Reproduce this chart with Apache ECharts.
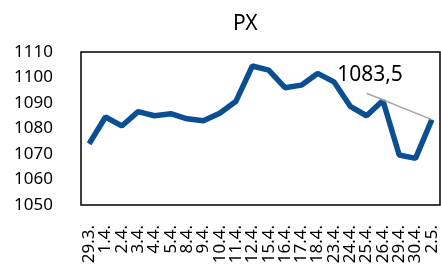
<!DOCTYPE html>
<html>
<head>
<meta charset="utf-8">
<script src="https://cdn.jsdelivr.net/npm/echarts@6/dist/echarts.min.js"></script>
<style>
  html, body { margin: 0; padding: 0; background: #fff; }
  #chart { width: 441px; height: 269px; }
</style>
</head>
<body>
<div id="chart"></div>
<script>
const dates = ['29.3.', '1.4.', '2.4.', '3.4.', '4.4.', '5.4.', '8.4.', '9.4.', '10.4.', '11.4.', '12.4.',
  '15.4.', '16.4.', '17.4.', '18.4.', '23.4.', '24.4.', '25.4.', '26.4.', '29.4.', '30.4.', '2.5.']
const px = [1074, 1084.5, 1081, 1086.6, 1085, 1085.8, 1083.8, 1083, 1086, 1090.7, 1104.5,
  1102.9, 1096, 1097, 1101.6, 1098.3, 1088.7, 1085, 1091, 1069.6, 1068.3, 1083.5]
const yTicks = [1050, 1060, 1070, 1080, 1090, 1100, 1110]

const font = 'Noto Sans'
const last = px.length - 1

let chart = echarts.init(document.getElementById('chart'))
chart.setOption({
  animation: false,
  title: {
    text: 'PX',
    left: 228,
    top: 9,
    textStyle: {fontFamily: font, fontSize: 21, fontWeight: 'normal', color: '#000'}
  },
  grid: {
    left: 81, right: 1, top: 52, bottom: 64,
    show: true, borderColor: '#000', borderWidth: 1.5
  },
  xAxis: {
    type: 'category',
    data: dates,
    axisLine: {show: false},
    axisTick: {show: false},
    axisLabel: {rotate: 90, interval: 0, margin: 20, fontFamily: font, fontSize: 17, color: '#000'}
  },
  yAxis: {
    type: 'value',
    min: yTicks[0],
    max: yTicks[yTicks.length - 1],
    interval: 10,
    splitLine: {show: false},
    axisLine: {show: false},
    axisTick: {show: false},
    axisLabel: {margin: 28, fontFamily: font, fontSize: 17, color: '#000', formatter: v => String(v)}
  },
  series: [{
    type: 'line',
    data: px.map((v, i) => i === last ? {
      value: v,
      label: {show: true, formatter: () => String(v).replace('.', ',')}
    } : v),
    symbol: 'circle',
    symbolSize: 1,
    lineStyle: {color: '#0b4f93', width: 5.5},
    itemStyle: {color: '#0b4f93'},
    label: {fontFamily: font, fontSize: 21, color: '#000'},
    labelLayout: (p) => p.dataIndex === last ? {x: 370, y: 75, align: 'center', verticalAlign: 'middle'} : {},
    // leader line from the label down to the last point
    markLine: {
      silent: true,
      symbol: 'none',
      label: {show: false},
      lineStyle: {color: '#a6a6a6', width: 1.5, type: 'solid'},
      data: [[{coord: [17.3, 1093.8]}, {coord: [last, px[last]]}]]
    }
  }]
})
</script>
</body>
</html>
